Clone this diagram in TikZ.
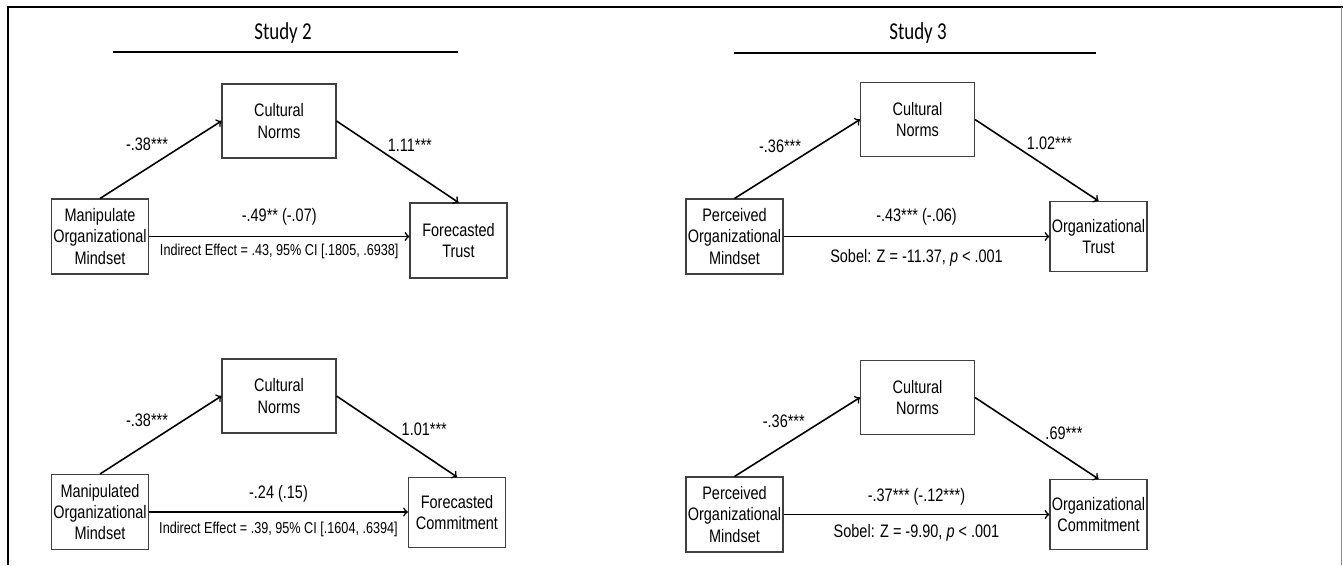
\documentclass[tikz,border=0pt]{standalone}
\usepackage{fontspec}
\setmainfont{Liberation Sans}[FakeStretch=0.8]
\newfontfamily\headfont{Carlito}[FakeStretch=0.78]
\usetikzlibrary{positioning}

\begin{document}
\begin{tikzpicture}[x=0.02cm,y=-0.02cm,
			    box/.style={draw=black!75,line width=0.6pt,align=center,inner sep=0pt,minimum width=2.28cm,minimum height=1.48cm,font=\fontsize{10.3}{12.2}\selectfont},
			    var/.style={box,minimum width=1.94cm,minimum height=1.5cm},
			    outc/.style={box,minimum width=1.94cm,minimum height=1.4cm},
			    edge/.style={->,line width=0.9pt},
			    coef/.style={font=\fontsize{10.3}{12}\selectfont,inner sep=1pt},
			    note/.style={font=\fontsize{9}{10}\selectfont,inner sep=1pt},
			    head/.style={font=\headfont\fontsize{13.8}{16}\selectfont},
			]
	    \useasboundingbox (0,0) rectangle (1343,565);

	    %frame
	    \draw[line width=1pt] (8,565) -- (8,7) -- (1343,7);
	    \draw[black!45,line width=0.5pt] (1341,7) -- (1341,565);

	    %headings
	    \node[head] (studyA) at (283,33) {Study 2};
	    \node[head] (studyB) at (918,33) {Study 3};
	    \draw[line width=0.6pt] (113,52) -- (458,52);
	    \draw[line width=0.6pt] (734,53) -- (1096,53);

	    %study 2, trust
	    \node[box] (normsA) at (279,121) {Cultural\\Norms};
	    \node[var] (mindA) at (100,236.5) {Manipulate\\Organizational\\Mindset};
	    \node[var] (trustA) at (458.5,240.5) {Forecasted\\Trust};
	    \draw [edge] (mindA.north) -- node [coef,pos=.58,anchor=south east] {-.38***} (normsA.west);
	    \draw [edge] (normsA.east) -- node [coef,pos=.4,anchor=south west] {1.11***} (trustA.north);
	    \draw [edge] (mindA.east) -- node [coef,above=5pt] {-.49** (-.07)}
	        node [note,below=3pt] {Indirect Effect = .43, 95\% CI [.1805, .6938]} (mindA.east -| trustA.west);

	    %study 3, trust
	    \node[box] (normsB) at (917.5,119.5) {Cultural\\Norms};
	    \node[var] (mindB) at (734.5,236.5) {Perceived\\Organizational\\Mindset};
	    \node[outc] (trustB) at (1098.5,236.5) {Organizational\\Trust};
	    \draw [edge] (mindB.north) -- node [coef,pos=.55,anchor=south east] {-.36***} (normsB.west);
	    \draw [edge] (normsB.east) -- node [coef,pos=.4,anchor=south west] {1.02***} (trustB.north);
	    \draw [edge] (mindB.east) -- node [coef,above=5pt] {-.43*** (-.06)}
	        node [coef,below=6pt] {Sobel: Z = -11.37, \textit{p} < .001} (mindB.east -| trustB.west);

	    %study 2, commitment
	    \node[box] (normsC) at (279,396) {Cultural\\Norms};
	    \node[var] (mindC) at (100,512) {Manipulated\\Organizational\\Mindset};
	    \node[outc] (commitC) at (457,512.5) {Forecasted\\Commitment};
	    \draw [edge] (mindC.north) -- node [coef,pos=.58,anchor=south east] {-.38***} (normsC.west);
	    \draw [edge] (normsC.east) -- node [coef,pos=.52,anchor=south west] {1.01***} (commitC.north);
	    \draw [edge] (mindC.east) -- node [coef,above=4pt] {-.24 (.15)}
	        node [note,below=4pt] {Indirect Effect = .39, 95\% CI [.1604, .6394]} (mindC.east -| commitC.west);

	    %study 3, commitment
	    \node[box] (normsD) at (917.5,397.5) {Cultural\\Norms};
	    \node[var] (mindD) at (734.5,514.5) {Perceived\\Organizational\\Mindset};
	    \node[outc] (commitD) at (1098.5,514.5) {Organizational\\Commitment};
	    \draw [edge] (mindD.north) -- node [coef,pos=.58,anchor=south east] {-.36***} (normsD.west);
	    \draw [edge] (normsD.east) -- node [coef,pos=.55,anchor=south west] {.69***} (commitD.north);
	    \draw [edge] (mindD.east) -- node [coef,above=4pt] {-.37*** (-.12***)}
	        node [coef,below=4pt] {Sobel: Z = -9.90, \textit{p} < .001} (mindD.east -| commitD.west);
	\end{tikzpicture}
\end{document}
